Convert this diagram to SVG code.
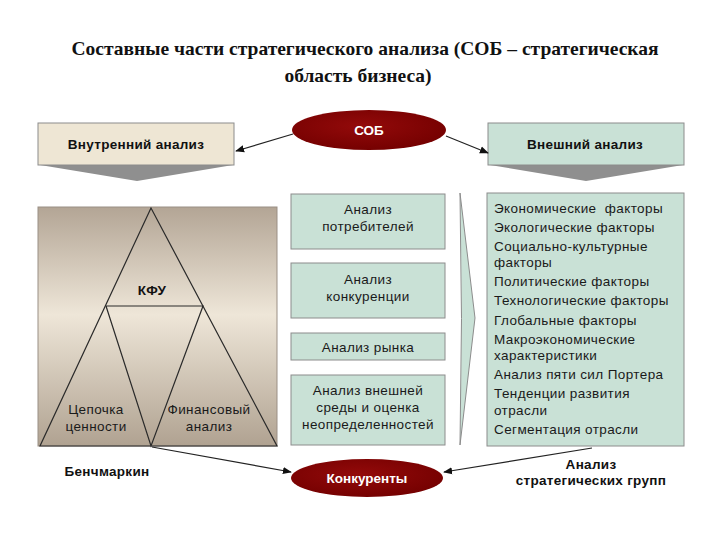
<svg xmlns="http://www.w3.org/2000/svg" width="720" height="540" viewBox="0 0 720 540">
<defs>
<style>
.title{font-family:"Liberation Serif","Times New Roman",serif;font-weight:bold;font-size:19.5px;fill:#111;text-anchor:middle}
.hdr{font-family:"Liberation Sans",Arial,sans-serif;font-weight:bold;font-size:13.5px;letter-spacing:0.3px;fill:#111;text-anchor:middle}
.t{font-family:"Liberation Sans",Arial,sans-serif;font-size:13.5px;letter-spacing:0.4px;fill:#1a1a1a;text-anchor:middle}
.tl{font-family:"Liberation Sans",Arial,sans-serif;font-size:13.5px;letter-spacing:0.4px;fill:#1a1a1a}
.w{font-family:"Liberation Sans",Arial,sans-serif;font-weight:bold;font-size:13.5px;fill:#fff;text-anchor:middle}
.beige{fill:#eee6d4;stroke:#8c8c8c;stroke-width:1}
.green{fill:#c9e1d6;stroke:#8c8c8c;stroke-width:1}
.chev{fill:#8f8f8f}
.con{stroke:#222;stroke-width:1.2;fill:none;marker-end:url(#ah)}
.tri{stroke:#2a2a2a;stroke-width:1.2;fill:none}
</style>
<marker id="ah" viewBox="0 0 10 10" refX="9" refY="5" markerWidth="9" markerHeight="9" orient="auto" markerUnits="userSpaceOnUse">
<path d="M0,1 L10,5 L0,9 Z" fill="#111"/>
</marker>
<radialGradient id="red" cx="0.45" cy="0.4" r="0.65">
<stop offset="0" stop-color="#930a0a"/>
<stop offset="1" stop-color="#730000"/>
</radialGradient>
<linearGradient id="taupe" x1="0" y1="0" x2="0" y2="1">
<stop offset="0" stop-color="#b3a595"/>
<stop offset="0.45" stop-color="#eee6d8"/>
<stop offset="1" stop-color="#b0a291"/>
</linearGradient>
</defs>

<g id="title">
<text class="title" x="365" y="55">Составные части стратегического анализа (СОБ – стратегическая</text>
<text class="title" x="358" y="82">область бизнеса)</text>
</g>

<g id="internal">
<polygon class="chev" points="40,165 233,165 137,181"/>
<rect class="beige" x="38" y="123" width="196" height="42"/>
<text class="hdr" x="136" y="149">Внутренний анализ</text>
</g>

<g id="sob">
<ellipse cx="369" cy="130" rx="77" ry="20" fill="url(#red)"/>
<text class="w" x="369" y="135">СОБ</text>
</g>

<g id="external">
<polygon class="chev" points="490,165 683,165 586,181"/>
<rect class="green" x="488" y="123" width="196" height="42"/>
<text class="hdr" x="585" y="149">Внешний анализ</text>
</g>

<g id="kfu-triangle">
<rect x="38" y="207" width="239" height="239" fill="url(#taupe)" stroke="#9a8f85" stroke-width="1"/>
<polygon class="tri" points="151,208 40,446 277,446"/>
<polyline class="tri" points="106,306 203,306 151,446 106,306"/>
<text class="hdr" x="152" y="295">КФУ</text>
<text class="t" x="96" y="414">Цепочка</text>
<text class="t" x="96" y="431">ценности</text>
<text class="t" x="209" y="414">Финансовый</text>
<text class="t" x="209" y="431">анализ</text>
</g>

<g id="consumers">
<rect class="green" x="291" y="194" width="154" height="55"/>
<text class="t" x="368" y="214">Анализ</text>
<text class="t" x="368" y="231">потребителей</text>
</g>
<g id="competition">
<rect class="green" x="291" y="263" width="154" height="55"/>
<text class="t" x="368" y="284">Анализ</text>
<text class="t" x="368" y="301">конкуренции</text>
</g>
<g id="market">
<rect class="green" x="291" y="333" width="154" height="27"/>
<text class="t" x="368" y="352">Анализ рынка</text>
</g>
<g id="environment">
<rect class="green" x="291" y="375" width="154" height="70"/>
<text class="t" x="368" y="395">Анализ внешней</text>
<text class="t" x="368" y="412">среды и оценка</text>
<text class="t" x="368" y="429">неопределенностей</text>
</g>

<g id="big-arrow">
<path d="M460,193 L475,318 L460,445 Q463,318 460,193 Z" fill="#c9e1d6" stroke="#8c8c8c" stroke-width="1"/>
</g>

<g id="factors">
<rect class="green" x="487" y="193" width="197" height="253"/>
<text class="tl" x="494" y="213" xml:space="preserve" style="white-space:pre">Экономические  факторы</text>
<text class="tl" x="494" y="232">Экологические факторы</text>
<text class="tl" x="494" y="251">Социально-культурные</text>
<text class="tl" x="494" y="267">факторы</text>
<text class="tl" x="494" y="286">Политические факторы</text>
<text class="tl" x="494" y="305">Технологические факторы</text>
<text class="tl" x="494" y="325">Глобальные факторы</text>
<text class="tl" x="494" y="344">Макроэкономические</text>
<text class="tl" x="494" y="360">характеристики</text>
<text class="tl" x="494" y="379">Анализ пяти сил Портера</text>
<text class="tl" x="494" y="398">Тенденции развития</text>
<text class="tl" x="494" y="415">отрасли</text>
<text class="tl" x="494" y="434">Сегментация отрасли</text>
</g>

<g id="competitors">
<ellipse cx="367" cy="478" rx="76" ry="19" fill="url(#red)"/>
<text class="w" x="367" y="483">Конкуренты</text>
</g>

<g id="benchmarking">
<text class="hdr" x="107" y="476">Бенчмаркин</text>
</g>
<g id="strategic-groups">
<text class="hdr" x="591" y="469">Анализ</text>
<text class="hdr" x="591" y="485">стратегических групп</text>
</g>

<g id="connectors">
<line class="con" x1="293" y1="134" x2="236" y2="151"/>
<line class="con" x1="446" y1="136" x2="488" y2="153"/>
<line class="con" x1="152" y1="447" x2="291" y2="472"/>
<line class="con" x1="592" y1="448" x2="444" y2="472"/>
</g>
</svg>
